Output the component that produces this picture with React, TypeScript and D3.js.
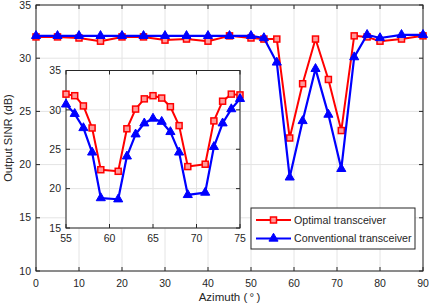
import * as d3 from 'd3';
import { useEffect, useRef } from 'react';

// Main chart data (azimuth in degrees, SINR in dB)
const azMain = [0, 5, 10, 15, 20, 25, 30, 35, 40, 45, 50, 53, 56, 59, 62, 65, 68, 71, 74, 77, 80, 85, 90];
const optMain = [32.0, 32.0, 31.9, 31.6, 32.0, 32.0, 31.7, 31.8, 31.6, 32.1, 31.9, 31.8, 31.8, 22.5, 27.6, 31.8, 28.0, 23.2, 32.1, 32.0, 31.6, 31.8, 32.1];
const convMain = [32.1, 32.1, 32.1, 32.1, 32.1, 32.1, 32.1, 32.1, 32.1, 32.1, 32.1, 31.9, 29.6, 18.8, 24.1, 29.0, 24.7, 19.6, 30.1, 32.2, 31.9, 32.2, 32.2];

// Zoomed inset data
const azInset = [55, 56, 57, 58, 59, 61, 62, 63, 64, 65, 66, 67, 68, 69, 71, 72, 73, 74, 75];
const optInset = [32.0, 31.8, 30.5, 27.7, 22.4, 22.2, 27.6, 30.1, 31.4, 31.8, 31.5, 30.4, 28.0, 22.8, 23.1, 28.6, 31.1, 32.0, 31.9];
const convInset = [30.7, 29.5, 27.7, 24.6, 18.8, 18.65, 24.1, 26.9, 28.3, 28.9, 28.5, 27.2, 24.6, 19.2, 19.5, 25.3, 28.3, 30.1, 31.4];

const xTicksMain = [0, 10, 20, 30, 40, 50, 60, 70, 80, 90];
const yTicksMain = [10, 15, 20, 25, 30, 35];
const xTicksInset = [55, 60, 65, 70, 75];
const yTicksInset = [15, 20, 25, 30, 35];

const seriesNames = ['Optimal transceiver', 'Conventional transceiver'];

const RED = '#ff0000';
const BLUE = '#0000ff';
const AXIS = '#262626';
const GRID = '#e4e4e4';
const FONT = '"Liberation Sans", Arial, Helvetica, sans-serif';

type G = d3.Selection<SVGGElement, unknown, null, undefined>;

function drawAxes(
  g: G,
  x: d3.ScaleLinear<number, number>,
  y: d3.ScaleLinear<number, number>,
  xt: number[],
  yt: number[],
  fontSize: number,
  xLabelGap: number,
) {
  const [x0, x1] = x.range();
  const [y0, y1] = y.range(); // y0 bottom, y1 top
  g.append('rect')
    .attr('x', x0).attr('y', y1)
    .attr('width', x1 - x0).attr('height', y0 - y1)
    .attr('fill', '#fff');

  // grid
  g.selectAll('.gx').data(xt).join('line')
    .attr('class', 'gx')
    .attr('x1', d => x(d)).attr('x2', d => x(d))
    .attr('y1', y0).attr('y2', y1)
    .attr('stroke', GRID).attr('stroke-width', 1);
  g.selectAll('.gy').data(yt).join('line')
    .attr('class', 'gy')
    .attr('x1', x0).attr('x2', x1)
    .attr('y1', d => y(d)).attr('y2', d => y(d))
    .attr('stroke', GRID).attr('stroke-width', 1);

  // ticks (inward, mirrored on top/right)
  const tl = 4;
  xt.forEach(d => {
    g.append('line').attr('x1', x(d)).attr('x2', x(d)).attr('y1', y0).attr('y2', y0 - tl).attr('stroke', AXIS);
    g.append('line').attr('x1', x(d)).attr('x2', x(d)).attr('y1', y1).attr('y2', y1 + tl).attr('stroke', AXIS);
  });
  yt.forEach(d => {
    g.append('line').attr('x1', x0).attr('x2', x0 + tl).attr('y1', y(d)).attr('y2', y(d)).attr('stroke', AXIS);
    g.append('line').attr('x1', x1).attr('x2', x1 - tl).attr('y1', y(d)).attr('y2', y(d)).attr('stroke', AXIS);
  });

  g.append('rect')
    .attr('x', x0).attr('y', y1)
    .attr('width', x1 - x0).attr('height', y0 - y1)
    .attr('fill', 'none').attr('stroke', AXIS).attr('stroke-width', 1);

  g.selectAll('.xl').data(xt).join('text')
    .attr('class', 'xl')
    .attr('x', d => x(d)).attr('y', y0 + xLabelGap)
    .attr('text-anchor', 'middle')
    .style('font-family', FONT).style('font-size', `${fontSize}px`).attr('fill', AXIS)
    .text(d => d);
  g.selectAll('.yl').data(yt).join('text')
    .attr('class', 'yl')
    .attr('x', x0 - 5).attr('y', d => y(d)).attr('dy', '0.35em')
    .attr('text-anchor', 'end')
    .style('font-family', FONT).style('font-size', `${fontSize}px`).attr('fill', AXIS)
    .text(d => d);
}

function drawSeries(
  g: G,
  x: d3.ScaleLinear<number, number>,
  y: d3.ScaleLinear<number, number>,
  az: number[],
  opt: number[],
  conv: number[],
) {
  const line = d3.line<[number, number]>().x(d => x(d[0])).y(d => y(d[1]));
  const optPts = az.map((a, i) => [a, opt[i]] as [number, number]);
  const convPts = az.map((a, i) => [a, conv[i]] as [number, number]);

  g.append('path').attr('d', line(optPts)).attr('fill', 'none')
    .attr('stroke', RED).attr('stroke-width', 2).attr('stroke-linejoin', 'round');
  g.selectAll('.sq').data(optPts).join('rect')
    .attr('class', 'sq')
    .attr('x', d => x(d[0]) - 3).attr('y', d => y(d[1]) - 3)
    .attr('width', 6).attr('height', 6)
    .attr('fill', '#ff9a9a').attr('stroke', RED).attr('stroke-width', 1.5);

  g.append('path').attr('d', line(convPts)).attr('fill', 'none')
    .attr('stroke', BLUE).attr('stroke-width', 2.2).attr('stroke-linejoin', 'round');
  const tri = d3.symbol().type(d3.symbolTriangle).size(36);
  g.selectAll('.tr').data(convPts).join('path')
    .attr('class', 'tr')
    .attr('d', tri)
    .attr('transform', d => `translate(${x(d[0])},${y(d[1])})`)
    .attr('fill', BLUE).attr('stroke', BLUE).attr('stroke-width', 1);
}

const App = () => {
  const svgRef = useRef<SVGSVGElement | null>(null);

  useEffect(() => {
    if (!svgRef.current) return;
    const svg = d3.select(svgRef.current);
    svg.selectAll('*').remove();

    // Main axes
    const x = d3.scaleLinear().domain([0, 90]).range([36, 423]);
    const y = d3.scaleLinear().domain([10, 35]).range([271, 5]);
    const main = svg.append('g');
    drawAxes(main, x, y, xTicksMain, yTicksMain, 10.5, 15.5);
    drawSeries(main, x, y, azMain, optMain, convMain);

    svg.append('text')
      .attr('x', (36 + 423) / 2).attr('y', 301)
      .attr('text-anchor', 'middle')
      .style('font-family', FONT).style('font-size', '11.5px').attr('fill', AXIS)
      .text('Azimuth (\u2009°\u2009)');
    svg.append('text')
      .attr('transform', `translate(12,${(5 + 271) / 2}) rotate(-90)`)
      .attr('text-anchor', 'middle')
      .style('font-family', FONT).style('font-size', '11.2px').attr('fill', AXIS)
      .text('Output SINR (dB)');

    // Inset axes
    const xi = d3.scaleLinear().domain([55, 75]).range([66, 240]);
    const yi = d3.scaleLinear().domain([15, 35]).range([228, 70.5]);
    const inset = svg.append('g');
    drawAxes(inset, xi, yi, xTicksInset, yTicksInset, 10.5, 13.5);
    drawSeries(inset, xi, yi, azInset, optInset, convInset);

    // Legend
    const lg = svg.append('g');
    lg.append('rect')
      .attr('x', 251).attr('y', 208).attr('width', 164).attr('height', 41)
      .attr('fill', '#fff').attr('stroke', AXIS).attr('stroke-width', 1);
    const rows = [220, 238.5];
    seriesNames.forEach((name, i) => {
      const cy = rows[i];
      const color = i === 0 ? RED : BLUE;
      lg.append('line').attr('x1', 256).attr('x2', 291).attr('y1', cy).attr('y2', cy)
        .attr('stroke', color).attr('stroke-width', i === 0 ? 2 : 2.2);
      if (i === 0) {
        lg.append('rect').attr('x', 270.5).attr('y', cy - 3).attr('width', 6).attr('height', 6)
          .attr('fill', '#ff9a9a').attr('stroke', RED).attr('stroke-width', 1.5);
      } else {
        lg.append('path').attr('d', d3.symbol().type(d3.symbolTriangle).size(36)())
          .attr('transform', `translate(273.5,${cy})`)
          .attr('fill', BLUE).attr('stroke', BLUE).attr('stroke-width', 1);
      }
      lg.append('text')
        .attr('x', 294).attr('y', cy).attr('dy', '0.35em')
        .style('font-family', FONT).style('font-size', '10.7px').attr('fill', AXIS)
        .text(name);
    });
  }, []);

  return (
    <svg
      ref={svgRef}
      width={429}
      height={305}
      style={{ position: 'absolute', left: 0, top: 0, background: '#fff' }}
    />
  );
};

export default App;
